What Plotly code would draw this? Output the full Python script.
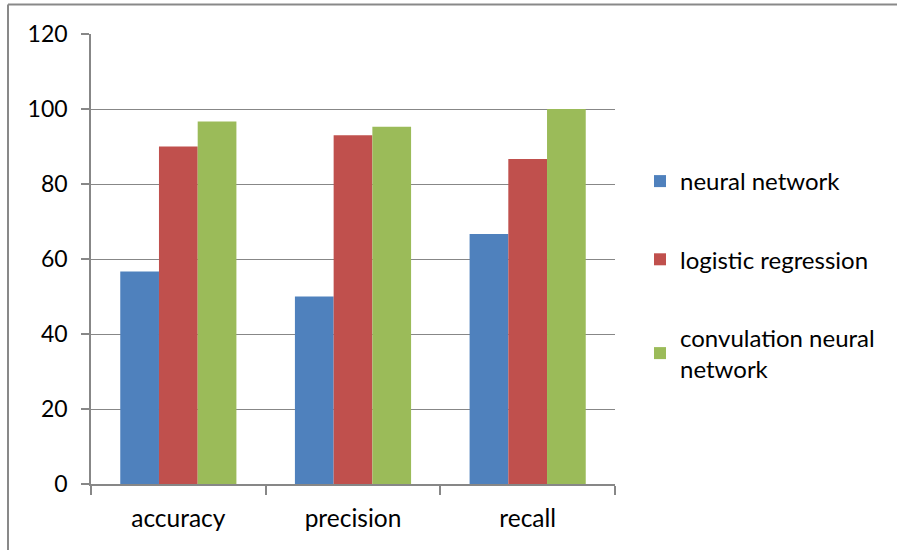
import plotly.graph_objects as go

# Metrics compared across three classifiers
categories = ["accuracy", "precision", "recall"]
neural_network = [56.7, 50, 66.7]
logistic_regression = [90, 93, 86.7]
cnn = [96.7, 95.3, 100]
y_ticks = [0, 20, 40, 60, 80, 100, 120]

series = [
    ("neural network", neural_network, "#4F81BD"),
    ("logistic regression", logistic_regression, "#C0504D"),
    ("convulation neural<br>network", cnn, "#9BBB59"),
]

FONT = "Lato"
GRID = "#878787"

fig = go.Figure()
for i, (name, vals, color) in enumerate(series):
    fig.add_trace(go.Bar(
        x=categories, y=vals, name=name,
        marker=dict(color=color, line=dict(width=0)),
        legendgroup=f"g{i}",
    ))

W, H = 897, 550
L, R, T, B = 91, 282, 34, 66
pw, ph = W - L - R, H - T - B


def px_to_paper(xp, yp):
    return (xp - L) / pw, (H - B - yp) / ph


# outer frame: left and top edges
x0, y0 = px_to_paper(8, 4.5)
x1, y1 = px_to_paper(905, 560)
fig.add_shape(type="line", xref="paper", yref="paper", x0=x0, x1=x0, y0=y1, y1=y0,
              line=dict(color="#898989", width=2))
fig.add_shape(type="line", xref="paper", yref="paper", x0=x0, x1=x1, y0=y0, y1=y0,
              line=dict(color="#898989", width=2))

lx, ly = px_to_paper(640, 159)

fig.update_layout(
    width=W, height=H,
    margin=dict(l=L, r=R, t=T, b=B, pad=0),
    paper_bgcolor="white", plot_bgcolor="white",
    font=dict(family=FONT, size=24, color="black"),
    barmode="group", bargap=0.335, bargroupgap=0,
    showlegend=True,
    legend=dict(x=lx, y=ly, xanchor="left", yanchor="top",
                font=dict(family=FONT, size=24, color="black"),
                tracegroupgap=44, bgcolor="rgba(0,0,0,0)"),
    xaxis=dict(showline=True, linecolor=GRID, linewidth=1.5,
               ticks="outside", tickson="boundaries", ticklen=9, tickcolor=GRID,
               tickwidth=1.5, showgrid=False, ticklabelstandoff=12,
               tickfont=dict(family=FONT, size=24.5)),
    yaxis=dict(range=[0, 120], tickvals=y_ticks, showline=True, linecolor=GRID,
               linewidth=1.5, ticks="outside", ticklen=8, tickcolor=GRID, tickwidth=1.5,
               showgrid=True, gridcolor=GRID, gridwidth=1.2, zeroline=False,
               ticklabelstandoff=9, tickfont=dict(family=FONT, size=23)),
)

fig.write_html("out.html")
